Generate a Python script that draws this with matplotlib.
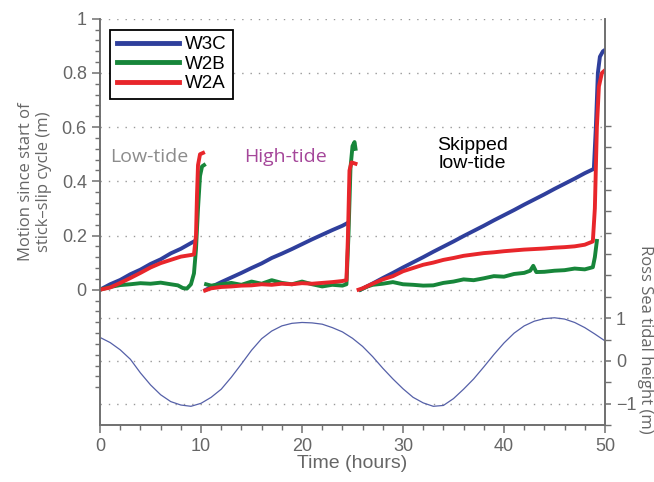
import matplotlib
matplotlib.use("Agg")
import matplotlib.pyplot as plt
from matplotlib.ticker import FixedLocator
import numpy as np

plt.rcParams['font.family'] = ['Liberation Sans', 'DejaVu Sans']

nan = np.nan

# motion since start of stick-slip cycle (m), three cycles split by nan
w3c_t = [0, 1, 2, 3, 4, 5, 6, 7, 8, 9, 9.3, nan,
         10.5, 11, 12, 13, 14, 15, 16, 17, 18, 19, 20, 21, 22, 23, 24, 24.4, nan,
         25.8, 26, 27, 28, 29, 30, 31, 32, 33, 34, 35, 36, 37, 38, 39, 40,
         41, 42, 43, 44, 45, 46, 47, 48, 48.9, 49.1, 49.3, 49.5, 49.8, 50]
w3c_m = [0, 0.02, 0.036, 0.057, 0.074, 0.095, 0.112, 0.134, 0.151, 0.172, 0.178, nan,
         0.0, 0.01, 0.028, 0.045, 0.062, 0.08, 0.097, 0.117, 0.133, 0.15, 0.168, 0.186, 0.203, 0.22, 0.236, 0.244, nan,
         0.0, 0.004, 0.023, 0.043, 0.062, 0.082, 0.101, 0.12, 0.14, 0.159, 0.178, 0.198, 0.217, 0.236, 0.256, 0.275,
         0.294, 0.314, 0.333, 0.352, 0.372, 0.391, 0.41, 0.43, 0.446, 0.6, 0.8, 0.86, 0.88, 0.885]

w2b_t = [0, 0.5, 1, 2, 3, 4, 5, 6, 7, 7.7, 8.2, 8.6, 9.0, 9.3, 9.5, 9.7, 9.9, 10.1, 10.3, nan,
         10.5, 11, 12, 13, 14, 15, 16, 17, 18, 19, 20, 21, 22, 23, 24, 24.4, 24.6, 24.8, 25.0, 25.2, 25.3, nan,
         25.8, 26.5, 27, 28, 29, 30, 31, 32, 33, 34, 35, 36, 37, 38, 39, 40, 41, 42,
         42.6, 42.9, 43.2, 44, 45, 46, 47, 48, 48.8, 49.0, 49.2]
w2b_m = [0, 0.005, 0.01, 0.017, 0.02, 0.024, 0.022, 0.026, 0.02, 0.016, 0.006, 0.004, 0.02, 0.06, 0.15, 0.3, 0.42, 0.455, 0.46, nan,
         0.02, 0.015, 0.02, 0.025, 0.018, 0.03, 0.022, 0.035, 0.025, 0.02, 0.03, 0.02, 0.012, 0.018, 0.015, 0.02, 0.2, 0.45, 0.53, 0.545, 0.52, nan,
         0.0, 0.012, 0.018, 0.022, 0.028, 0.02, 0.018, 0.015, 0.016, 0.025, 0.03, 0.038, 0.035, 0.042, 0.05, 0.048, 0.058, 0.062,
         0.07, 0.088, 0.065, 0.066, 0.07, 0.072, 0.078, 0.075, 0.083, 0.12, 0.18]

w2a_t = [0, 1, 2, 3, 4, 5, 6, 7, 8, 9, 9.3, 9.5, 9.6, 9.7, 9.9, 10.2, nan,
         10.4, 11, 12, 13, 14, 15, 16, 17, 18, 19, 20, 21, 22, 23, 24, 24.4, 24.55, 24.7, 24.9, 25.3, nan,
         25.6, 26, 27, 28, 29, 30, 31, 32, 33, 34, 35, 36, 37, 38, 39, 40, 41, 42, 43, 44, 45, 46, 47, 48,
         48.8, 49.0, 49.2, 49.4, 49.7, 50]
w2a_m = [0, 0.008, 0.025, 0.043, 0.062, 0.082, 0.098, 0.11, 0.122, 0.128, 0.13, 0.2, 0.35, 0.46, 0.5, 0.505, nan,
         -0.003, 0.005, 0.01, 0.012, 0.015, 0.016, 0.02, 0.018, 0.022, 0.02, 0.024, 0.022, 0.025, 0.028, 0.032, 0.035, 0.2, 0.44, 0.47, 0.465, nan,
         0.0, 0.005, 0.022, 0.038, 0.05, 0.068, 0.08, 0.092, 0.1, 0.11, 0.117, 0.125, 0.13, 0.135, 0.138, 0.142, 0.145, 0.148, 0.15, 0.152, 0.155, 0.157, 0.16, 0.166,
         0.178, 0.3, 0.6, 0.75, 0.8, 0.81]

# Ross Sea tidal height (m), hourly
tide_t = list(range(0, 51))
tide_h = [0.55, 0.43, 0.26, 0.04, -0.28, -0.56, -0.79, -0.95, -1.03, -1.06,
          -0.99, -0.85, -0.66, -0.38, -0.07, 0.25, 0.52, 0.70, 0.82, 0.88,
          0.90, 0.89, 0.86, 0.78, 0.68, 0.53, 0.34, 0.10, -0.17, -0.42,
          -0.65, -0.85, -0.98, -1.06, -1.04, -0.88, -0.66, -0.42, -0.14, 0.15,
          0.42, 0.65, 0.82, 0.93, 0.99, 1.01, 0.98, 0.90, 0.78, 0.63, 0.47]

gray = '#707070'
txt = '#666666'

fig = plt.figure(figsize=(6.54, 4.82), dpi=100)
ax = fig.add_axes([0.153, 0.118, 0.772, 0.843])
ax2 = ax.twinx()

ax.plot(w3c_t, w3c_m, color='#2f3f9c', lw=2.8, label='W3C')
ax.plot(w2b_t, w2b_m, color='#17863a', lw=2.8, label='W2B')
ax.plot(w2a_t, w2a_m, color='#e8262b', lw=2.8, label='W2A')
ax2.plot(tide_t, tide_h, color='#5560a8', lw=0.9)

ax.set_xlim(0, 50)
ax.set_ylim(-0.5, 1.0)
ax2.set_ylim(-1.5, 8)

ax.set_xticks([0, 10, 20, 30, 40, 50])
ax.xaxis.set_minor_locator(FixedLocator(np.arange(0, 51, 2)))
ax.set_yticks([0, 0.2, 0.4, 0.6, 0.8, 1.0])
ax.set_yticklabels(['0', '0.2', '0.4', '0.6', '0.8', '1'])
ax.yaxis.set_minor_locator(FixedLocator(np.arange(-0.36, 1.001, 0.04)))
ax2.set_yticks([-1, 0, 1])
ax2.yaxis.set_minor_locator(FixedLocator(np.arange(-1.5, 5.51, 0.5)))

for a in (ax, ax2):
    a.tick_params(which='major', length=6, width=1.1, color=gray, labelcolor=txt, labelsize=13)
    a.tick_params(which='minor', length=3.5, width=1.0, color=gray)
    for s in a.spines.values():
        s.set_color(gray)
        s.set_linewidth(1.2)
    a.spines['top'].set_visible(False)
ax2.tick_params(which='major', length=4.5)
ax2.tick_params(which='minor', length=4.5)

ax.yaxis.grid(True, which='major', linestyle=(0, (1, 5)), color='#999999', lw=1.0)
ax2.yaxis.grid(True, which='major', linestyle=(0, (1, 5)), color='#999999', lw=1.0)

ax.set_xlabel('Time (hours)', fontsize=14, color=txt, labelpad=0)
ax.set_ylabel('Motion since start of\nstick\u2013slip cycle (m)', fontsize=12, color=txt,
              family='Open Sans')
ax.yaxis.set_label_coords(-0.095, 0.6)
ax2.set_ylabel('Ross Sea tidal height (m)', fontsize=12, color=txt, family='Open Sans',
               rotation=270)
ax2.yaxis.set_label_coords(1.095, 0.21)

ax.text(4.85, 0.49, 'Low-tide', color='#8c8c8c', fontsize=14, family='Open Sans',
        ha='center', va='center')
ax.text(18.4, 0.49, 'High-tide', color='#a5479a', fontsize=14, family='Open Sans',
        ha='center', va='center')
ax.text(36.9, 0.50, 'Skipped\nlow-tide', color='black', fontsize=14,
        ha='center', va='center', linespacing=1.05)

leg = ax.legend(loc='upper left', bbox_to_anchor=(0.02, 0.973), borderaxespad=0,
                fontsize=13.5, handlelength=3.3, handletextpad=0.35, labelspacing=0.12,
                fancybox=False, framealpha=1, borderpad=0.35)
leg.get_frame().set_edgecolor('black')
leg.get_frame().set_linewidth(1.3)
for h in leg.get_lines():
    h.set_linewidth(3.5)
ax.set_zorder(ax2.get_zorder() + 1)
ax.patch.set_visible(False)

fig.savefig('out.png', dpi=100)
